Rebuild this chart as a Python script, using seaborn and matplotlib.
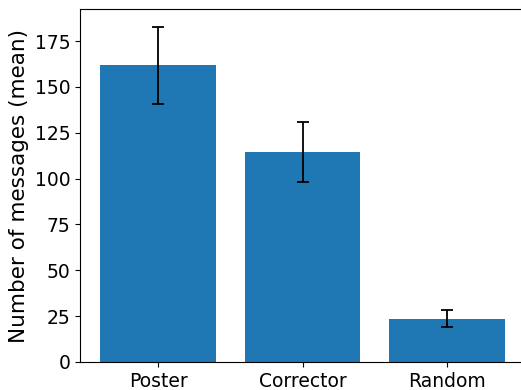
import numpy as np
import pandas as pd
import matplotlib
matplotlib.use("Agg")
import matplotlib.pyplot as plt
import seaborn as sns

# Data
roles = ["Poster", "Corrector", "Random"]
mean_messages = [161.8, 114.5, 23.6]
err_messages = [21.0, 16.2, 4.7]

df = pd.DataFrame({"role": roles, "messages": mean_messages})

fig, ax = plt.subplots(figsize=(5.21, 3.9), dpi=100)
# the original image is cropped on the right, so the right spine is off-canvas
fig.subplots_adjust(left=0.1536, right=1.008, bottom=0.072, top=0.976)

sns.barplot(data=df, x="role", y="messages", color="#1f77b4",
            saturation=1, width=0.8, errorbar=None, ax=ax)
ax.errorbar(np.arange(len(roles)), mean_messages, yerr=err_messages,
            fmt="none", ecolor="black", elinewidth=1.3, capsize=4.5, capthick=1.3)

ax.set_xlim(-0.54, 2.54)
ax.set_ylim(0, 192.3)
ax.set_yticks([0, 25, 50, 75, 100, 125, 150, 175])
ax.set_xlabel("")
ax.set_ylabel("Number of messages (mean)", fontsize=15.5)
ax.tick_params(labelsize=13.5)

fig.savefig("out.png", dpi=100)
